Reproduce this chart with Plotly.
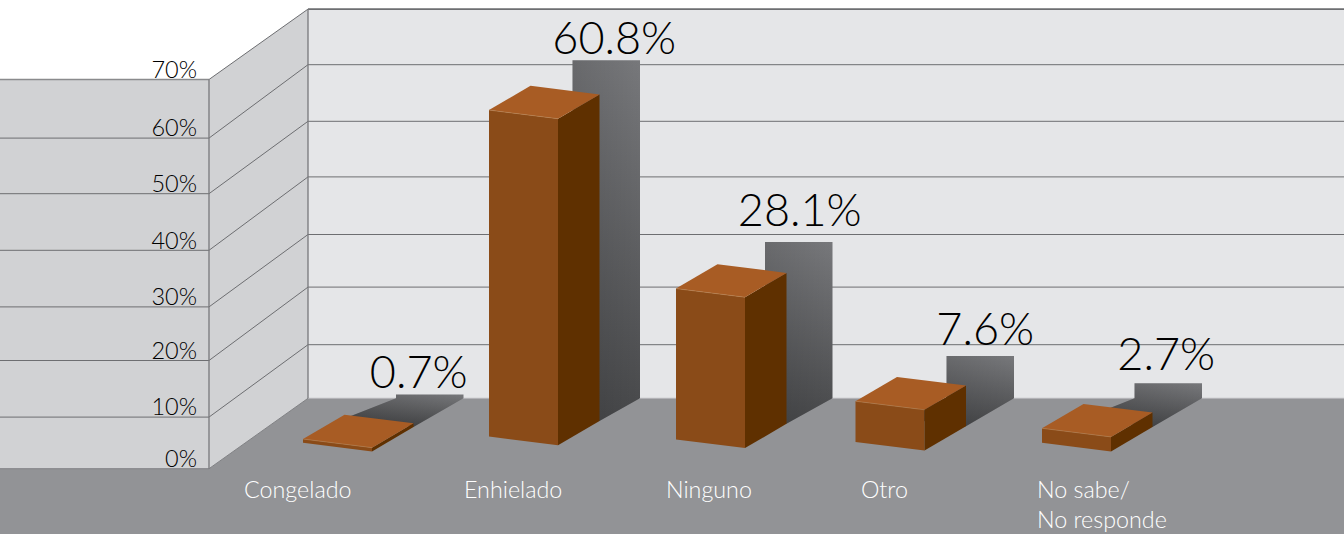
import plotly.graph_objects as go

# ---- data ----
categories = ["Congelado", "Enhielado", "Ninguno", "Otro", "No sabe/<br>No responde"]
values = [0.7, 60.8, 28.1, 7.6, 2.7]
tick_values = [0, 10, 20, 30, 40, 50, 60, 70]
tick_labels = ["0%", "10%", "20%", "30%", "40%", "50%", "60%", "70%"]

# ---- layout of the pseudo-3D scene (pixels of the 1344x534 frame) ----
W, H = 1344, 534
PX_PER_PCT = 5.56
FRONT_ZERO = 468.7      # pixel row of 0% on the front wall
BACK_ZERO = 398.3       # pixel row of 0% on the back wall
CORNER_X = 209
BACK_X = 308
BAR_SCALE = 5.37        # px per % of the bars' front faces
BAR_W, BAR_DX, BAR_DY, BAR_SKEW = 69, 41.5, -24.3, 8.6
SHADOW_W = 67.5

bar_left = [303, 489, 676, 855.5, 1042]
bar_base = [442.8, 436.6, 439.5, 442, 442.8]
shadow_left = [396, 572.5, 765, 946.5, 1134.5]
label_dx = [-11, 8, 1, 5, -2]
label_lift = [18, 18, 27, 22, 25]
cat_x = [244, 464, 666, 861, 1037]
grid_front_nudge = [0, 4, 3, 5, 4, 3, 3, 0]
grid_back_nudge = [0, 2, 0, 3, 1, 1, 0, 0]

FONT = "Lato"
C_WALL, C_SIDE, C_FLOOR = "#e5e6e8", "#d1d2d4", "#929396"
C_FRONT, C_TOP, C_RIGHT = "#8a4b18", "#a85c24", "#5f3000"
C_LINE = "#6d6e71"


def py(px):
    """Pixel row to value on the percent axis."""
    return (FRONT_ZERO - px) / PX_PER_PCT


fig = go.Figure()


def poly(pts, color=None, gradient=None):
    xs = [p[0] for p in pts]
    ys = [py(p[1]) for p in pts]
    kw = dict(fillgradient=gradient) if gradient else dict(fillcolor=color)
    fig.add_trace(go.Scatter(x=xs, y=ys, mode="lines", fill="toself", line=dict(width=0),
                             hoverinfo="skip", showlegend=False, **kw))


def line(pts, color=C_LINE, width=1.0):
    fig.add_trace(go.Scatter(x=[p[0] for p in pts], y=[py(p[1]) for p in pts], mode="lines",
                             line=dict(color=color, width=width), hoverinfo="skip", showlegend=False))


top_f = FRONT_ZERO - 70 * PX_PER_PCT
top_b = BACK_ZERO - 70 * PX_PER_PCT

# walls and floor
poly([(0, top_f), (CORNER_X, top_f), (CORNER_X, FRONT_ZERO), (0, FRONT_ZERO)], C_SIDE)
poly([(CORNER_X, top_f), (BACK_X, top_b), (BACK_X, BACK_ZERO), (CORNER_X, FRONT_ZERO)], C_SIDE)
poly([(BACK_X, top_b), (W, top_b), (W, BACK_ZERO), (BACK_X, BACK_ZERO)], C_WALL)
poly([(0, FRONT_ZERO), (CORNER_X, FRONT_ZERO), (BACK_X, BACK_ZERO), (W, BACK_ZERO), (W, H), (0, H)], C_FLOOR)

# grid: one polyline per tick, across front wall, side wall and back wall
for i, v in enumerate(tick_values):
    f = FRONT_ZERO - v * PX_PER_PCT + grid_front_nudge[i]
    b = BACK_ZERO - v * PX_PER_PCT + grid_back_nudge[i]
    if v == 0:
        line([(0, f), (CORNER_X, f), (BACK_X, b)], "#808184", 1.0)
        line([(BACK_X, b), (W, b)], "#b4b5b8", 1.0)
    elif v == 70:
        line([(0, f), (CORNER_X, f)], "#8a8b8d", 1.4)
        line([(CORNER_X, f), (BACK_X, b)], C_LINE, 1.0)
        line([(BACK_X, b), (W, b)], C_LINE, 1.6)
    else:
        line([(0, f), (CORNER_X, f), (BACK_X, b), (W, b)], C_LINE, 1.0)
line([(CORNER_X, top_f), (CORNER_X, FRONT_ZERO)], "#77787b", 1.3)
line([(BACK_X, top_b), (BACK_X, BACK_ZERO)], "#77787b", 1.3)

# shadows on the back wall and floor
for i, v in enumerate(values):
    L, R = shadow_left[i], shadow_left[i] + SHADOW_W
    top = BACK_ZERO - v * PX_PER_PCT
    x0, b0 = bar_left[i], bar_base[i]
    pts = [(L, top), (R, top), (R, BACK_ZERO),
           (x0 + BAR_W + BAR_DX, b0 + BAR_SKEW + BAR_DY),
           (x0 + BAR_DX, b0 + BAR_DY), (L, BACK_ZERO)]
    poly(pts, gradient=dict(type="vertical", colorscale=[[0, "#47484a"], [1, "#77787b"]]))
    poly(pts, gradient=dict(type="horizontal", colorscale=[[0, "rgba(0,0,0,0.2)"], [1, "rgba(0,0,0,0)"]]))

# bars
for i, v in enumerate(values):
    x0, b0 = bar_left[i], bar_base[i]
    x1 = x0 + BAR_W
    h = v * BAR_SCALE
    fl, fr = (x0, b0), (x1, b0 + BAR_SKEW)
    tl, tr = (x0, b0 - h), (x1, b0 + BAR_SKEW - h)
    btr = (x1 + BAR_DX, tr[1] + BAR_DY)
    btl = (x0 + BAR_DX, tl[1] + BAR_DY)
    bbr = (x1 + BAR_DX, fr[1] + BAR_DY)
    poly([fl, fr, tr, tl], C_FRONT)
    poly([fr, bbr, btr, tr], C_RIGHT)
    poly([tl, tr, btr, btl], C_TOP)
    line([tl, tr], "#b98350", 0.6)

# value labels
fig.add_trace(go.Scatter(
    x=[shadow_left[i] + SHADOW_W / 2 + label_dx[i] for i in range(len(values))],
    y=[py(BACK_ZERO - v * PX_PER_PCT - label_lift[i]) for i, v in enumerate(values)],
    text=[f"{v}%" for v in values], mode="text", textposition="middle center",
    textfont=dict(family=FONT, size=45, color="#000000", weight=300),
    cliponaxis=False, hoverinfo="skip", showlegend=False))

# category labels
for i, c in enumerate(categories):
    fig.add_annotation(x=cat_x[i], y=py(474.5), xref="x", yref="y", text=c, showarrow=False,
                       xanchor="left", yanchor="top", align="left", borderpad=0, borderwidth=0,
                       font=dict(family=FONT, size=23.3, color="#ffffff", weight=300))

fig.update_layout(
    width=W, height=H, margin=dict(l=0, r=0, t=0, b=0), autosize=False,
    paper_bgcolor="white", plot_bgcolor="white", showlegend=False,
    xaxis=dict(range=[0, W], visible=False, fixedrange=True),
    yaxis=dict(range=[py(H), py(0)], anchor="free", position=(CORNER_X - 12) / W, side="left",
               tickmode="array",
               tickvals=[v - grid_front_nudge[i] / PX_PER_PCT for i, v in enumerate(tick_values)],
               ticktext=tick_labels, ticks="", showgrid=False, zeroline=False, showline=False,
               ticklabelshift=-10, ticklabelstandoff=0, fixedrange=True,
               tickfont=dict(family=FONT, size=23.5, color="#000000", weight=300)),
)

fig.write_html("out.html", config=dict(displayModeBar=False),
               post_script="document.body.style.margin='0';document.body.style.overflow='hidden';")
